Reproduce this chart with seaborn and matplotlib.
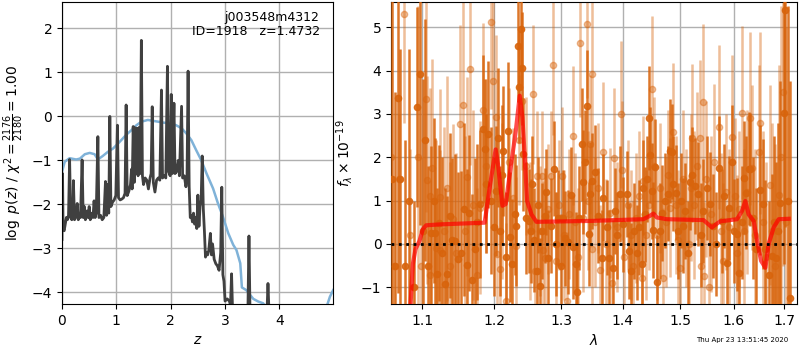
import numpy as np
import pandas as pd
import matplotlib
matplotlib.use('Agg')
import matplotlib.pyplot as plt
import matplotlib.ticker as mticker
import seaborn as sns


# log p(z), schwarze Linie
pz_z = [0.00, 0.01, 0.02, 0.04, 0.06, 0.08, 0.10, 0.12, 0.14, 0.16, 0.18, 0.20, 0.21, 0.23, 0.25,
        0.27, 0.28, 0.30, 0.32, 0.34, 0.37, 0.39, 0.41, 0.43, 0.46, 0.48, 0.50, 0.52, 0.55, 0.57,
        0.59, 0.61, 0.63, 0.66, 0.68, 0.71, 0.74, 0.77, 0.80, 0.82, 0.84, 0.86, 0.88, 0.90, 0.93,
        0.96, 0.99, 1.02, 1.04, 1.07, 1.10, 1.13, 1.16, 1.18, 1.20, 1.23, 1.26, 1.28, 1.29, 1.31,
        1.33, 1.35, 1.36, 1.38, 1.40, 1.42, 1.44, 1.46, 1.48, 1.50, 1.53, 1.56, 1.59, 1.62, 1.64,
        1.66, 1.68, 1.71, 1.74, 1.77, 1.80, 1.83, 1.85, 1.88, 1.91, 1.94, 1.96, 1.99, 2.01, 2.03,
        2.06, 2.08, 2.11, 2.14, 2.16, 2.20, 2.22, 2.25, 2.28, 2.30, 2.32, 2.34, 2.36, 2.38, 2.40,
        2.42, 2.44, 2.46, 2.48, 2.50, 2.52, 2.54, 2.56, 2.58, 2.60, 2.62, 2.64, 2.66, 2.68, 2.70,
        2.73, 2.75, 2.77, 2.80, 2.83, 2.86, 2.89, 2.92, 2.94, 2.96, 2.98, 3.00, 3.04, 3.08, 3.10,
        3.12, 3.14, 3.42, 3.44, 3.46, 3.77, 3.79, 3.81]
pz_log = [-2.80, -1.30, -2.55, -2.60, -2.45, -2.30, -2.35, -2.25, -0.98, -2.30, -2.35, -2.20, -1.46, -2.35, -2.30,
          -2.10, -1.98, -2.35, -2.25, -2.30, -0.99, -2.30, -2.05, -2.35, -2.15, -2.30, -2.05, -2.35, -2.20, -2.30,
          -1.92, -2.30, -2.20, -0.46, -2.30, -2.25, -2.35, -2.30, -1.48, -2.25, -1.55, -2.20, 0.00, -2.05, -1.95,
          -1.90, -1.80, -0.20, -1.85, -1.90, -1.88, -1.85, -1.75, 0.26, -1.80, -1.70, -1.55, -1.20, -1.65, -0.23,
          -1.50, -0.26, -1.30, -0.27, -1.35, -0.25, -1.30, 1.73, -1.35, -1.55, -1.40, -1.45, -1.65, -1.40, -1.30,
          0.22, -1.50, -1.72, -1.45, -1.40, -1.45, 0.60, -1.40, -1.35, -1.40, 1.14, -1.25, -1.35, 0.50, -1.30,
          0.30, -1.30, -1.25, -1.00, -1.35, 0.23, -1.40, -1.35, -1.60, -1.45, 1.03, -1.60, -2.30, -2.25, -2.40,
          -2.20, -2.45, -2.30, -2.55, -1.79, -2.50, -2.05, -1.90, -0.90, -2.10, -2.60, -3.20, -3.10, -3.15, -3.05,
          -2.66, -3.15, -2.90, -3.25, -3.35, -3.40, -3.50, -3.10, -1.61, -3.60, -3.75, -4.20, -4.15, -4.20, -4.30,
          -3.58, -4.50, -4.50, -2.72, -4.50, -4.50, -3.80, -4.50]

# chi2-Kurve, blau
chi_z = [0.00, 0.05, 0.14, 0.26, 0.33, 0.42, 0.51, 0.60, 0.66, 0.75, 0.85, 0.94, 1.06, 1.18, 1.28,
         1.37, 1.46, 1.58, 1.67, 1.77, 1.86, 1.98, 2.10, 2.20, 2.29, 2.38, 2.47, 2.56, 2.66, 2.78,
         2.87, 2.96, 3.06, 3.15, 3.21, 3.28, 3.31, 3.39, 3.52, 3.61, 3.70, 3.80, 4.85, 4.93, 4.99]
chi_log = [-1.26, -1.03, -0.95, -0.98, -0.96, -0.86, -0.83, -0.86, -0.98, -0.90, -0.80, -0.73, -0.58, -0.42, -0.31,
           -0.20, -0.12, -0.08, -0.10, -0.12, -0.14, -0.16, -0.20, -0.27, -0.39, -0.54, -0.77, -0.99, -1.30, -1.64,
           -1.98, -2.28, -2.66, -2.92, -3.04, -3.34, -3.89, -3.95, -4.15, -4.21, -4.25, -4.40, -4.40, -4.10, -3.95]

# Spektrum, Gruppe 1 (dunkel)
lam_a = [1.0616, 1.0653, 1.0682, 1.0719, 1.0771, 1.0823, 1.0888, 1.0937, 1.0967, 1.1007, 1.1043, 1.1073,
         1.1123, 1.1154, 1.1176, 1.1203, 1.1221, 1.1261, 1.1307, 1.1334, 1.1371, 1.1398, 1.1440, 1.1485,
         1.1532, 1.1564, 1.1610, 1.1638, 1.1680, 1.1718, 1.1746, 1.1799, 1.1836, 1.1861, 1.1885, 1.1908,
         1.1947, 1.1990, 1.2029, 1.2052, 1.2084, 1.2116, 1.2125, 1.2165, 1.2198, 1.2223, 1.2263, 1.2297,
         1.2312, 1.2346, 1.2361, 1.2396, 1.2408, 1.2421, 1.2471, 1.2511, 1.2547, 1.2556, 1.2589, 1.2623,
         1.2650, 1.2673, 1.2714, 1.2750, 1.2773, 1.2800, 1.2842, 1.2893, 1.2920, 1.2956, 1.2998, 1.3034,
         1.3061, 1.3112, 1.3150, 1.3191, 1.3234, 1.3245, 1.3282, 1.3326, 1.3351, 1.3379, 1.3416, 1.3449,
         1.3460, 1.3488, 1.3542, 1.3595, 1.3651, 1.3677, 1.3733, 1.3776, 1.3843, 1.3871, 1.3913, 1.3955,
         1.4011, 1.4068, 1.4112, 1.4141, 1.4198, 1.4239, 1.4283, 1.4324, 1.4352, 1.4382, 1.4417, 1.4457,
         1.4469, 1.4499, 1.4527, 1.4556, 1.4597, 1.4635, 1.4674, 1.4733, 1.4791, 1.4821, 1.4852, 1.4880,
         1.4929, 1.4970, 1.5019, 1.5061, 1.5092, 1.5152, 1.5183, 1.5214, 1.5275, 1.5336, 1.5376, 1.5428,
         1.5492, 1.5553, 1.5615, 1.5666, 1.5710, 1.5774, 1.5818, 1.5869, 1.5900, 1.5965, 1.6009, 1.6061,
         1.6111, 1.6154, 1.6190, 1.6243, 1.6288, 1.6321, 1.6374, 1.6440, 1.6505, 1.6573, 1.6619, 1.6685,
         1.6753, 1.6800, 1.6840, 1.6881, 1.6921, 1.6989, 1.7024, 1.7075, 1.7126]
flux_a = [1.50, -0.50, 3.36, 1.50, -0.50, 1.00, -1.00, 3.16, 3.93, 0.30, 2.40, -0.50,
          0.25, 1.00, 0.25, -0.70, 0.49, -0.20, -0.92, -0.70, 0.65, 0.09, 0.07, -0.34,
          -0.22, 0.80, -0.48, 0.71, -0.84, -0.12, 0.50, 0.92, 2.65, 2.20, 1.39, 2.53,
          1.00, 0.40, 1.22, 2.45, 0.30, 1.60, 2.15, -0.30, 2.60, 0.15, -0.47, 0.68,
          0.42, 4.57, 3.62, 4.95, 4.05, 2.07, 0.60, 0.53, 0.30, 1.39, 0.10, -0.62,
          0.90, -0.97, 0.30, 0.65, 1.20, -0.32, 0.42, 1.74, 0.00, 0.60, -0.50, 0.60,
          0.13, 0.05, 1.13, -0.08, -0.47, -1.10, 0.60, 2.30, 1.42, 1.90, 3.18, 0.22,
          1.16, 1.45, 1.65, 0.65, -0.32, 1.07, 0.38, -0.32, -0.55, 0.76, 0.20, 1.15,
          0.45, 1.15, -0.16, -0.62, 0.30, -0.20, 0.38, -0.47, 1.30, 0.68, 1.50, 2.90,
          2.05, 1.22, 0.32, 1.78, -0.89, 0.30, 0.71, 1.00, 1.16, 2.15, 2.13, 1.39,
          1.18, 0.30, 1.00, 0.42, 0.76, -0.20, 1.42, 1.60, 1.34, 1.15, 0.20, 0.76,
          1.30, 0.92, 0.42, 0.00, 1.76, 0.53, 1.10, -0.43, 0.84, 1.90, 0.30, 0.22,
          -0.66, 0.50, 1.53, 1.18, 1.74, 1.72, 0.60, -0.12, 1.24, 0.92, -0.12, -0.72,
          -0.28, 0.50, -0.32, 0.30, 0.95, 3.03, 5.39, 1.00, -1.24]
err_a = [4.5, 4.0, 4.5, 3.0, 2.9, 3.5, 2.0, 2.3, 3.5, 3.5, 2.8, 2.3,
         2.0, 1.9, 2.2, 2.0, 1.8, 2.2, 2.2, 1.8, 1.9, 1.9, 2.0, 2.0,
         1.9, 2.0, 2.2, 1.8, 2.0, 2.1, 1.8, 1.7, 1.7, 1.6, 1.6, 1.7,
         1.7, 1.6, 1.5, 1.6, 1.5, 1.6, 1.5, 1.5, 1.6, 1.5, 1.5, 1.4,
         1.4, 1.3, 1.3, 1.4, 1.3, 1.3, 1.3, 1.2, 1.2, 1.1, 1.2, 1.2,
         1.1, 1.1, 1.1, 1.1, 1.0, 1.1, 1.1, 1.1, 1.2, 1.1, 1.2, 1.1,
         1.1, 1.2, 1.1, 1.2, 1.2, 1.1, 1.2, 1.3, 1.2, 1.2, 1.3, 1.2,
         1.2, 1.1, 1.1, 1.1, 1.1, 1.0, 1.1, 1.1, 1.1, 1.0, 1.0, 1.1,
         1.1, 1.0, 1.1, 1.1, 1.1, 1.1, 1.1, 1.1, 1.1, 1.1, 1.0, 1.2,
         1.1, 1.1, 1.1, 1.1, 1.1, 1.1, 1.1, 1.1, 1.1, 1.2, 1.1, 1.1,
         1.1, 1.1, 1.1, 1.1, 1.1, 1.2, 1.1, 1.1, 1.1, 1.2, 1.2, 1.2,
         1.2, 1.2, 1.2, 1.2, 1.2, 1.2, 1.2, 1.3, 1.2, 1.3, 1.2, 1.3,
         1.3, 1.3, 1.3, 1.3, 1.3, 1.3, 1.4, 1.4, 1.5, 1.5, 1.6, 1.7,
         1.9, 2.0, 2.2, 2.5, 2.8, 3.5, 5.0, 4.5, 5.0]

# Spektrum, Gruppe 2 (hell)
lam_b = [1.0603, 1.0640, 1.0703, 1.0768, 1.0836, 1.0875, 1.0941, 1.0993, 1.1056, 1.1069, 1.1100, 1.1109,
         1.1136, 1.1180, 1.1234, 1.1244, 1.1289, 1.1334, 1.1371, 1.1412, 1.1453, 1.1508, 1.1554, 1.1578,
         1.1610, 1.1648, 1.1690, 1.1750, 1.1789, 1.1836, 1.1875, 1.1947, 1.1980, 1.2029, 1.2041, 1.2077,
         1.2106, 1.2165, 1.2208, 1.2272, 1.2322, 1.2356, 1.2401, 1.2461, 1.2521, 1.2571, 1.2597, 1.2623,
         1.2673, 1.2699, 1.2727, 1.2750, 1.2796, 1.2852, 1.2877, 1.2927, 1.2966, 1.3009, 1.3045, 1.3087,
         1.3123, 1.3182, 1.3219, 1.3266, 1.3298, 1.3347, 1.3406, 1.3436, 1.3460, 1.3488, 1.3501, 1.3550,
         1.3590, 1.3631, 1.3677, 1.3722, 1.3788, 1.3821, 1.3855, 1.3905, 1.3967, 1.3984, 1.4031, 1.4082,
         1.4133, 1.4181, 1.4227, 1.4270, 1.4324, 1.4352, 1.4399, 1.4452, 1.4510, 1.4545, 1.4592, 1.4635,
         1.4692, 1.4741, 1.4786, 1.4821, 1.4880, 1.4929, 1.4965, 1.5001, 1.5056, 1.5110, 1.5165, 1.5192,
         1.5214, 1.5257, 1.5312, 1.5367, 1.5382, 1.5428, 1.5441, 1.5479, 1.5522, 1.5572, 1.5628, 1.5710,
         1.5751, 1.5799, 1.5856, 1.5913, 1.5965, 1.6019, 1.6067, 1.6106, 1.6158, 1.6203, 1.6252, 1.6307,
         1.6354, 1.6410, 1.6485, 1.6519, 1.6579, 1.6639, 1.6705, 1.6759, 1.6820, 1.6887, 1.6941, 1.6982,
         1.7044]
flux_b = [2.00, -0.50, 1.50, 5.30, 0.20, -1.00, 2.00, -0.50, 3.34, 1.47, -0.72, 1.10,
          1.76, -0.10, 1.08, -0.14, 0.30, 1.28, -0.52, 0.57, -0.20, 2.76, 3.20, 0.30,
          1.55, 4.03, 0.90, -0.72, 0.84, 3.10, 1.80, 5.12, 3.76, 2.92, -0.24, -0.57,
          1.00, -1.32, 1.90, 1.07, -0.05, 2.40, 3.30, 1.80, 0.30, 3.45, -0.62, 1.57,
          0.30, 1.57, -0.15, -0.32, 0.80, 1.57, 4.12, -0.40, 0.90, 1.57, 0.20, -1.32,
          0.70, 2.50, 0.50, -0.30, 4.63, 0.60, 5.07, 1.00, 2.30, 3.93, -0.12, 0.50,
          1.30, -0.60, 2.13, 0.00, 0.72, -0.90, 1.99, 0.40, 2.99, 1.70, -0.30, 0.90,
          0.20, -0.51, 0.60, 1.10, -0.78, 1.45, 0.20, 0.90, 3.57, 1.80, 0.20, 1.30,
          -0.78, 0.50, 1.60, 0.84, 2.58, 0.90, 0.10, -0.55, 1.50, 0.60, 0.00, 1.30,
          2.45, 0.90, 1.80, 2.45, -0.51, 3.28, -0.74, 1.50, -1.00, 0.70, 1.90, 2.70,
          0.30, -0.40, 1.20, 0.40, 2.47, 1.10, -0.20, 0.80, 3.03, 0.30, 1.20, 2.90,
          1.76, 0.20, 2.12, 2.78, 0.50, -0.30, 1.36, 0.30, -0.50, 1.13, 2.00, 3.50,
          0.50]
err_b = [3.0, 2.0, 1.5, 2.5, 2.0, 1.0, 3.5, 2.5, 2.6, 2.4, 2.2, 2.5,
         2.5, 2.5, 2.5, 2.3, 2.4, 2.6, 2.4, 2.2, 2.3, 2.3, 2.4, 2.2,
         2.3, 2.2, 2.2, 2.0, 2.0, 2.0, 2.0, 2.0, 2.0, 1.9, 1.7, 1.8,
         1.8, 1.8, 1.7, 1.6, 1.6, 1.5, 1.6, 1.6, 1.6, 1.6, 1.5, 1.5,
         1.5, 1.5, 1.6, 1.5, 1.5, 1.5, 1.6, 1.6, 1.5, 1.6, 1.5, 1.6,
         1.5, 1.6, 1.6, 1.6, 1.7, 1.7, 1.7, 1.6, 1.6, 1.7, 1.6, 1.5,
         1.5, 1.5, 1.6, 1.5, 1.5, 1.5, 1.6, 1.5, 1.7, 1.6, 1.5, 1.5,
         1.5, 1.5, 1.5, 1.5, 1.5, 1.5, 1.5, 1.5, 1.7, 1.6, 1.5, 1.5,
         1.6, 1.5, 1.5, 1.6, 1.6, 1.6, 1.6, 1.6, 1.6, 1.6, 1.6, 1.7,
         1.7, 1.7, 1.7, 1.8, 1.7, 1.8, 1.7, 1.8, 1.8, 1.8, 1.8, 1.9,
         1.8, 1.8, 1.8, 1.8, 1.9, 1.8, 1.8, 1.8, 2.0, 1.9, 1.9, 2.0,
         1.9, 2.0, 2.0, 2.1, 2.1, 2.2, 2.3, 2.5, 2.8, 3.0, 3.5, 4.0,
         4.5]

# Modellspektrum, rot
mod_lam = [1.0830, 1.0849, 1.0879, 1.0914, 1.0967, 1.1011, 1.1056, 1.1234, 1.1860, 1.1932, 1.2018, 1.2052,
           1.2116, 1.2164, 1.2223, 1.2312, 1.2371, 1.2411, 1.2446, 1.2481, 1.2547, 1.2622, 1.3460, 1.4352,
           1.4469, 1.4527, 1.4587, 1.4763, 1.5429, 1.5522, 1.5586, 1.5648, 1.5742, 1.6063, 1.6160, 1.6225,
           1.6289, 1.6388, 1.6455, 1.6534, 1.6620, 1.6686, 1.6787, 1.6889, 1.7093]
mod_flux = [-2.00, -1.40, -0.47, -0.12, 0.07, 0.34, 0.43, 0.45, 0.49, 1.30, 2.18, 1.84,
            0.88, 0.92, 1.60, 2.60, 3.42, 2.92, 2.00, 0.99, 0.68, 0.51, 0.53, 0.57,
            0.65, 0.70, 0.61, 0.57, 0.55, 0.45, 0.38, 0.44, 0.52, 0.57, 0.76, 0.99,
            0.68, 0.53, 0.07, -0.39, -0.55, 0.00, 0.38, 0.57, 0.58]

orange = '#d8640c'

fig = plt.figure(figsize=(8, 3.5), dpi=100)
ax1 = fig.add_axes([0.0775, 0.131, 0.339, 0.863])
ax2 = fig.add_axes([0.489, 0.131, 0.507, 0.863])

# linkes Panel: p(z)
sns.lineplot(x=chi_z, y=chi_log, ax=ax1, sort=False, estimator=None, color='#7fb2d8', lw=1.8)
sns.lineplot(x=pz_z, y=pz_log, ax=ax1, sort=False, estimator=None, color='0.25', lw=2)
ax1.set_xlim(0, 4.99)
ax1.set_ylim(-4.27, 2.6)
ax1.set_xticks([0, 1, 2, 3, 4])
ax1.grid(True, color='#b0b0b0', lw=1)
ax1.set_xlabel('$z$', fontsize=10)
ax1.set_ylabel(r'$\log\ p(z)$ / $\chi^2=\frac{2176}{2180}=1.00$', fontsize=10)
ax1.text(0.95, 0.97, 'j003548m4312\nID=1918   z=1.4732', transform=ax1.transAxes,
         ha='right', va='top', fontsize=9, linespacing=1.1)

# rechtes Panel: Spektrum
ax2.errorbar(lam_b, flux_b, yerr=err_b, fmt='o', color=orange, alpha=0.42, ms=4.5,
             elinewidth=1.8, capsize=0, zorder=2)
ax2.errorbar(lam_a, flux_a, yerr=err_a, fmt='o', color=orange, alpha=0.88, ms=4.5,
             elinewidth=1.8, capsize=0, zorder=3)
sns.lineplot(x=mod_lam, y=mod_flux, ax=ax2, sort=False, estimator=None, color='red',
             lw=3, alpha=0.7, zorder=4)
ax2.axhline(0, color='black', ls=':', lw=2, zorder=5)
ax2.set_xscale('log')
ax2.set_xlim(1.060, 1.726)
ax2.set_ylim(-1.39, 5.58)
ax2.xaxis.set_major_locator(mticker.FixedLocator([1.1, 1.2, 1.3, 1.4, 1.5, 1.6, 1.7]))
ax2.xaxis.set_major_formatter(mticker.FixedFormatter(['1.1', '1.2', '1.3', '1.4', '1.5', '1.6', '1.7']))
ax2.xaxis.set_minor_locator(mticker.NullLocator())
ax2.grid(True, color='#b0b0b0', lw=1)
ax2.set_axisbelow(True)
ax2.set_xlabel(r'$\lambda$', fontsize=10)
ax2.set_ylabel(r'$f_\lambda \times 10^{-19}$', fontsize=10)

fig.text(0.985, 0.029, 'Thu Apr 23 13:51:45 2020', ha='right', va='center', fontsize=5)

plt.savefig('out.png', dpi=100)
